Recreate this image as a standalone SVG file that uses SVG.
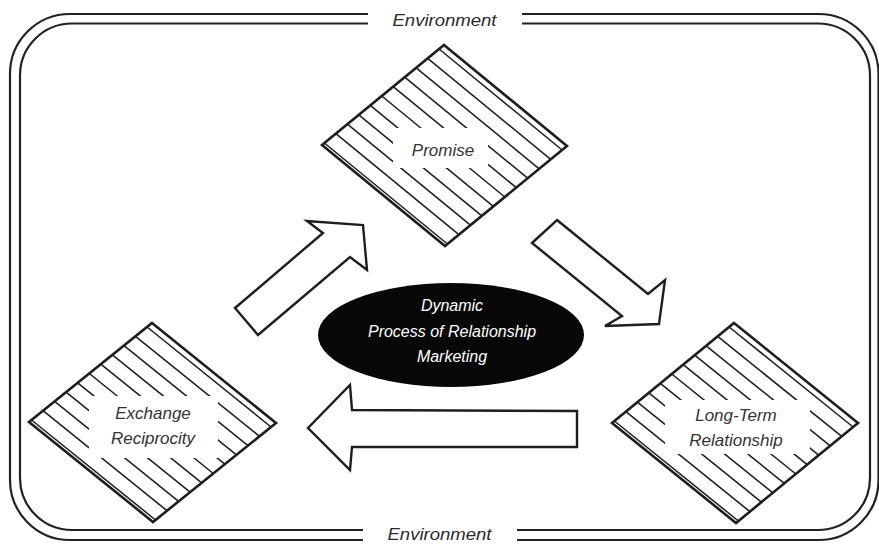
<svg xmlns="http://www.w3.org/2000/svg" width="879" height="544" viewBox="0 0 879 544">
  <style>
    .frame { fill: none; stroke: #222; stroke-width: 2.2; }
    .env { font-family: "Liberation Sans", Arial, sans-serif; font-style: italic; font-size: 16px; fill: #2a2a2a; text-anchor: middle; }
    .hatch { stroke: #222; stroke-width: 1.6; stroke-linecap: round; }
    .clear { fill: #ffffff; }
    .diamond { fill: none; stroke: #1e1e1e; stroke-width: 2.6; stroke-linejoin: miter; }
    .label { font-family: "Liberation Sans", Arial, sans-serif; font-style: italic; font-size: 17px; fill: #333; text-anchor: middle; }
    .arrow { fill: #ffffff; stroke: #1e1e1e; stroke-width: 2.4; stroke-linejoin: miter; }
    .core { fill: #080808; }
    .coretext { font-family: "Liberation Sans", Arial, sans-serif; font-style: italic; font-size: 16px; fill: #ffffff; text-anchor: middle; }
  </style>

  <rect x="0" y="0" width="879" height="544" fill="#ffffff"/>

  <!-- surrounding environment: double rounded frame, broken where the labels sit -->
  <g id="environment">
    <path class="frame" d="M368 14 H70 A60 60 0 0 0 10 74 V480 A60 60 0 0 0 70 540 H363"/>
    <path class="frame" d="M517 540 H818.5 A60 60 0 0 0 878.5 480 V74 A60 60 0 0 0 818.5 14 H522"/>
    <path class="frame" d="M368 23.5 H72 A52 52 0 0 0 20 75.5 V478 A52 52 0 0 0 72 530 H363"/>
    <path class="frame" d="M517 530 H818 A52 52 0 0 0 870 478 V75.5 A52 52 0 0 0 818 23.5 H522"/>
    <text class="env" x="444.5" y="25.5" textLength="104" lengthAdjust="spacingAndGlyphs">Environment</text>
    <text class="env" x="439.5" y="539.5" textLength="104" lengthAdjust="spacingAndGlyphs">Environment</text>
  </g>

  <!-- flow arrows between the stages -->
  <g id="connectors">
    <polygon id="arrow-exchange-promise" class="arrow" points="235,308 323,233 307,221 363,225 367,270 350,257 258,335"/>
    <polygon id="arrow-promise-longterm" class="arrow" points="557,220 648,294 665,280 659,324 605,326 622,316 532,243"/>
    <polygon id="arrow-longterm-exchange" class="arrow" points="577,411 352,410 350,385 308,428 350,470 352,447 577,447"/>
  </g>

  <!-- Promise -->
  <g id="node-promise">
    <g>
      <line class="hatch" x1="439.1" y1="49.0" x2="562.1" y2="150.0"/>
      <line class="hatch" x1="427.7" y1="58.4" x2="550.7" y2="159.4"/>
      <line class="hatch" x1="416.2" y1="67.8" x2="539.2" y2="168.8"/>
      <line class="hatch" x1="404.7" y1="77.2" x2="527.7" y2="178.2"/>
      <line class="hatch" x1="393.2" y1="86.6" x2="516.2" y2="187.6"/>
      <line class="hatch" x1="381.8" y1="96.0" x2="504.8" y2="197.0"/>
      <line class="hatch" x1="370.3" y1="105.4" x2="493.3" y2="206.4"/>
      <line class="hatch" x1="358.8" y1="114.8" x2="481.8" y2="215.8"/>
      <line class="hatch" x1="347.4" y1="124.2" x2="470.4" y2="225.2"/>
      <line class="hatch" x1="335.9" y1="133.6" x2="458.9" y2="234.6"/>
      <line class="hatch" x1="324.4" y1="143.0" x2="447.4" y2="244.0"/>
    </g>
    <rect class="clear" x="393" y="128" width="95" height="40"/>
    <polygon class="diamond" points="444,45 567,146 445,246 322,145"/>
    <text class="label" x="443" y="156">Promise</text>
  </g>

  <!-- Exchange Reciprocity -->
  <g id="node-exchange">
    <g>
      <line class="hatch" x1="147.1" y1="327.0" x2="271.1" y2="427.0"/>
      <line class="hatch" x1="135.5" y1="336.3" x2="259.5" y2="436.3"/>
      <line class="hatch" x1="124.0" y1="345.6" x2="248.0" y2="445.6"/>
      <line class="hatch" x1="112.4" y1="354.9" x2="236.4" y2="454.9"/>
      <line class="hatch" x1="100.8" y1="364.2" x2="224.8" y2="464.2"/>
      <line class="hatch" x1="89.3" y1="373.5" x2="213.3" y2="473.5"/>
      <line class="hatch" x1="77.7" y1="382.8" x2="201.7" y2="482.8"/>
      <line class="hatch" x1="66.1" y1="392.1" x2="190.1" y2="492.1"/>
      <line class="hatch" x1="54.6" y1="401.4" x2="178.6" y2="501.4"/>
      <line class="hatch" x1="43.0" y1="410.7" x2="167.0" y2="510.7"/>
      <line class="hatch" x1="31.5" y1="420.0" x2="155.5" y2="520.0"/>
    </g>
    <rect class="clear" x="89" y="396" width="129" height="62"/>
    <polygon class="diamond" points="152,323 276,423 153,522 29,422"/>
    <text class="label" x="153" y="419">Exchange</text>
    <text class="label" x="153" y="444">Reciprocity</text>
  </g>

  <!-- Long-Term Relationship -->
  <g id="node-longterm">
    <g>
      <line class="hatch" x1="729.1" y1="327.0" x2="853.1" y2="427.0"/>
      <line class="hatch" x1="717.7" y1="336.4" x2="841.7" y2="436.4"/>
      <line class="hatch" x1="706.2" y1="345.8" x2="830.2" y2="445.8"/>
      <line class="hatch" x1="694.7" y1="355.2" x2="818.7" y2="455.2"/>
      <line class="hatch" x1="683.2" y1="364.6" x2="807.2" y2="464.6"/>
      <line class="hatch" x1="671.8" y1="374.0" x2="795.8" y2="474.0"/>
      <line class="hatch" x1="660.3" y1="383.4" x2="784.3" y2="483.4"/>
      <line class="hatch" x1="648.8" y1="392.8" x2="772.8" y2="492.8"/>
      <line class="hatch" x1="637.4" y1="402.2" x2="761.4" y2="502.2"/>
      <line class="hatch" x1="625.9" y1="411.6" x2="749.9" y2="511.6"/>
      <line class="hatch" x1="614.4" y1="421.0" x2="738.4" y2="521.0"/>
    </g>
    <rect class="clear" x="665" y="400" width="145" height="54"/>
    <polygon class="diamond" points="734,323 858,423 736,523 612,423"/>
    <text class="label" x="736" y="421">Long-Term</text>
    <text class="label" x="736" y="446">Relationship</text>
  </g>

  <!-- central process -->
  <g id="node-core">
    <ellipse class="core" cx="451" cy="335" rx="133" ry="52"/>
    <text class="coretext" x="452" y="311">Dynamic</text>
    <text class="coretext" x="452" y="337">Process of Relationship</text>
    <text class="coretext" x="452" y="362">Marketing</text>
  </g>
</svg>
